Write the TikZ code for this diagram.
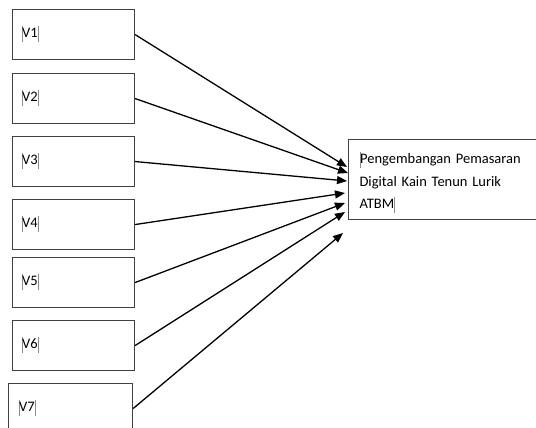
\documentclass[tikz,border=0pt]{standalone}
\usepackage{fontspec}
\setmainfont{Carlito}
\usetikzlibrary{arrows.meta}
\newcommand{\txtmark}{{\color{black!45}\vrule width 0.6pt height 12pt depth 4pt}}
\begin{document}
\begin{tikzpicture}[x=1pt, y=-1pt, font=\fontsize{14.5}{22.5}\selectfont,
    varbox/.style={draw=black!75, line width=1.1pt, anchor=north west,
      minimum width=122pt, minimum height=50pt, inner xsep=9pt, inner ysep=4pt,
      text width=104pt, align=left, text height=24pt, text depth=18pt},
    goalbox/.style={draw=black!75, line width=1.1pt, anchor=north west,
      minimum width=192pt, minimum height=80pt, inner xsep=11pt, inner ysep=4pt,
      text width=170pt, align=left, text height=20pt, text depth=52pt},
    link/.style={line width=1.3pt, -{Triangle[length=10pt,width=8pt]}}]
  \useasboundingbox (0,0) rectangle (536,428);
  % variables
  \foreach \i/\x/\y in {1/12/9, 2/12/73, 3/12/136, 4/12/199, 5/12/257, 6/12/320} {
    \node[varbox] (v\i) at (\x,\y) {\txtmark V\i\txtmark};
  }
  \node[varbox, minimum width=124pt] (v7) at (8,383) {\txtmark V7\txtmark};
  % target
  \node[goalbox] (goal) at (348,139)
    {\txtmark Pengembangan Pemasaran\\ Digital Kain Tenun Lurik\\ ATBM\txtmark};
  % arrows
  \foreach \i/\tx/\ty in {1/347/167, 2/348/173, 3/347/181, 4/345/193, 5/345/203, 6/345/212, 7/343/233} {
    \coordinate (t\i) at (\tx,\ty);
    \draw[link] (v\i.east) -- (t\i);
  }
\end{tikzpicture}
\end{document}
